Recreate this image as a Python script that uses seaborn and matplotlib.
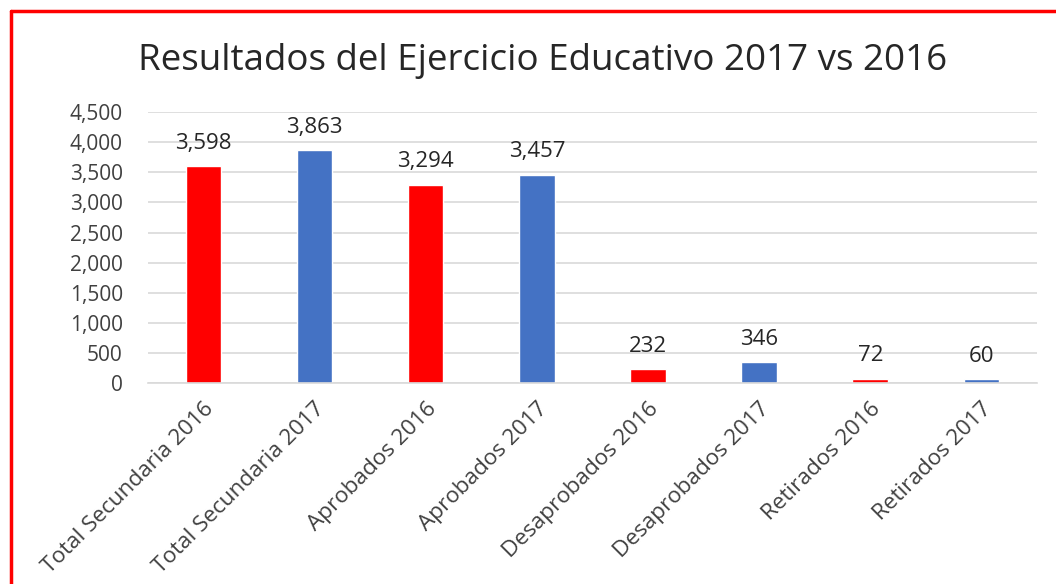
import matplotlib
matplotlib.use("Agg")
import matplotlib.pyplot as plt
import matplotlib.lines as mlines
import pandas as pd
import seaborn as sns

# data
categories = ["Total Secundaria 2016", "Total Secundaria 2017",
              "Aprobados 2016", "Aprobados 2017",
              "Desaprobados 2016", "Desaprobados 2017",
              "Retirados 2016", "Retirados 2017"]
values = [3598, 3863, 3294, 3457, 232, 346, 72, 60]
years = ["2016", "2017", "2016", "2017", "2016", "2017", "2016", "2017"]
yticks = [0, 500, 1000, 1500, 2000, 2500, 3000, 3500, 4000, 4500]

palette = {"2016": "#FF0000", "2017": "#4472C4"}

sns.set_theme(style="white")
plt.rcParams["font.family"] = ["Open Sans", "DejaVu Sans"]

df = pd.DataFrame({"categoria": categories, "valor": values, "anio": years})

fig = plt.figure(figsize=(10.56, 5.84), dpi=100)
ax = fig.add_axes([0.140, 0.344, 0.842, 0.464])

sns.barplot(data=df, x="categoria", y="valor", hue="anio", palette=palette,
            dodge=False, width=0.32, legend=False, ax=ax, saturation=1)

ax.set_ylim(0, 4500)
ax.set_yticks(yticks)
ax.set_yticklabels([f"{t:,}" for t in yticks], fontsize=15, color="#404040")
ax.set_xlim(-0.5, len(categories) - 0.5)
ax.set_xticks(range(len(categories)))
ax.set_xticklabels(categories, rotation=45, ha="right", rotation_mode="anchor",
                   fontsize=16.2, color="#404040")
ax.tick_params(axis="y", length=0, pad=18)
ax.tick_params(axis="x", length=0, pad=11)
ax.set_xlabel("")
ax.set_ylabel("")

ax.yaxis.grid(True, color="#D9D9D9", linewidth=1.2)
ax.set_axisbelow(True)
for s in ["top", "right", "left"]:
    ax.spines[s].set_visible(False)
ax.spines["bottom"].set_color("#D9D9D9")
ax.spines["bottom"].set_linewidth(1.2)

for i, v in enumerate(values):
    ax.annotate(f"{v:,}", (i, v), xytext=(0, 9), textcoords="offset points",
                ha="center", va="bottom", fontsize=16, color="#262626")

fig.text(0.514, 0.895, "Resultados del Ejercicio Educativo 2017 vs 2016",
         ha="center", va="center", fontsize=26.5, color="#262626")

# red frame on left and top edges
fig.add_artist(mlines.Line2D([10.5 / 1056, 10.5 / 1056], [0, 1 - 10.5 / 584],
                             color="#FF0000", linewidth=2.5))
fig.add_artist(mlines.Line2D([10.5 / 1056, 1], [1 - 10.5 / 584, 1 - 10.5 / 584],
                             color="#FF0000", linewidth=2.5))

fig.savefig("out.png", dpi=100)
